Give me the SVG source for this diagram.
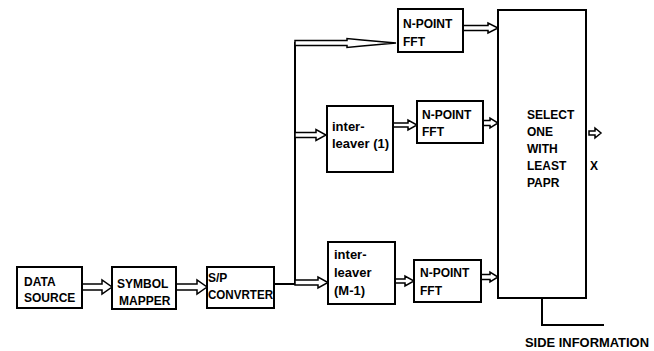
<svg xmlns="http://www.w3.org/2000/svg" width="654" height="351" viewBox="0 0 654 351">
<style>
.box{fill:#fff;stroke:#000;stroke-width:2}
.t{font-family:"Liberation Sans",Arial,sans-serif;font-weight:bold;font-size:12px;fill:#000}
.lc{font-size:13px}
.arr{fill:#fff;stroke:#000;stroke-width:1.5;stroke-linejoin:miter}
.ln{fill:none;stroke:#000;stroke-width:2}
</style>
<rect width="654" height="351" fill="#fff"/>
<g id="connectors">
<path class="ln" d="M274,284 H295 M295,284 V42 M542,298 V325 H604"/>
<path class="arr" d="M82,284 H102 V280 L112,287 L102,294 V290 H82 Z"/>
<path class="arr" d="M176,284 H197 V280 L207,287 L197,294 V290 H176 Z"/>
<path class="arr" d="M295,40.5 H347 V38.5 L362,40 L396,43 L362,46 L347,47.5 V45.5 H295 Z"/>
<path class="arr" d="M295,132.5 H316 V129.5 L326,135 L316,140.5 V137.5 H295 Z"/>
<path class="arr" d="M295,280 H318 V277 L328,282.5 L318,288 V285 H295 Z"/>
<path class="arr" d="M393,123 H408 V120 L417,125 L408,130 V127 H393 Z"/>
<path class="arr" d="M395,279 H405 V276 L414,281 L405,286 V283 H395 Z"/>
<path class="arr" d="M463,25.5 H488 V23 L498,28 L488,33 V30.5 H463 Z"/>
<path class="arr" d="M483,120.5 H490 V118 L498,123 L490,128 V125.5 H483 Z"/>
<path class="arr" d="M481,274.5 H490 V272 L498,277 L490,282 V279.5 H481 Z"/>
<path class="arr" d="M589,131 H595 V128 L601,133 L595,138 V135 H589 Z"/>
</g>
<g id="data-source"><rect class="box" x="17" y="267" width="65" height="41"/><text class="t" x="24" y="286">DATA</text><text class="t" x="24" y="302">SOURCE</text></g>
<g id="symbol-mapper"><rect class="box" x="112" y="267" width="64" height="42"/><text class="t" x="117" y="288">SYMBOL</text><text class="t" x="119" y="305">MAPPER</text></g>
<g id="sp-converter"><rect class="box" x="207" y="267" width="67" height="41"/><text class="t" x="208" y="282">S/P</text><text class="t" x="208" y="299" textLength="65" lengthAdjust="spacingAndGlyphs">CONVRTER</text></g>
<g id="fft-top"><rect class="box" x="398" y="9" width="65" height="43"/><text class="t" x="403" y="28">N-POINT</text><text class="t" x="403" y="46">FFT</text></g>
<g id="interleaver-1"><rect class="box" x="327" y="106" width="66" height="66"/><text class="t lc" x="332" y="131">inter-</text><text class="t lc" x="332" y="148">leaver (1)</text></g>
<g id="fft-mid"><rect class="box" x="417" y="101" width="66" height="42"/><text class="t" x="422" y="119">N-POINT</text><text class="t" x="422" y="136">FFT</text></g>
<g id="interleaver-m1"><rect class="box" x="328" y="242" width="67" height="62"/><text class="t lc" x="334" y="259">inter-</text><text class="t lc" x="334" y="277">leaver</text><text class="t lc" x="334" y="295">(M-1)</text></g>
<g id="fft-bottom"><rect class="box" x="414" y="260" width="67" height="42"/><text class="t" x="420" y="277">N-POINT</text><text class="t" x="420" y="295">FFT</text></g>
<g id="select"><rect class="box" x="498" y="10" width="88" height="288"/><text class="t" x="527" y="119">SELECT</text><text class="t" x="527" y="136">ONE</text><text class="t" x="527" y="153">WITH</text><text class="t" x="527" y="170">LEAST</text><text class="t" x="527" y="187">PAPR</text></g>
<text class="t" x="590" y="170">X</text>
<text class="t" x="525" y="347" textLength="124" lengthAdjust="spacingAndGlyphs">SIDE INFORMATION</text>
</svg>
